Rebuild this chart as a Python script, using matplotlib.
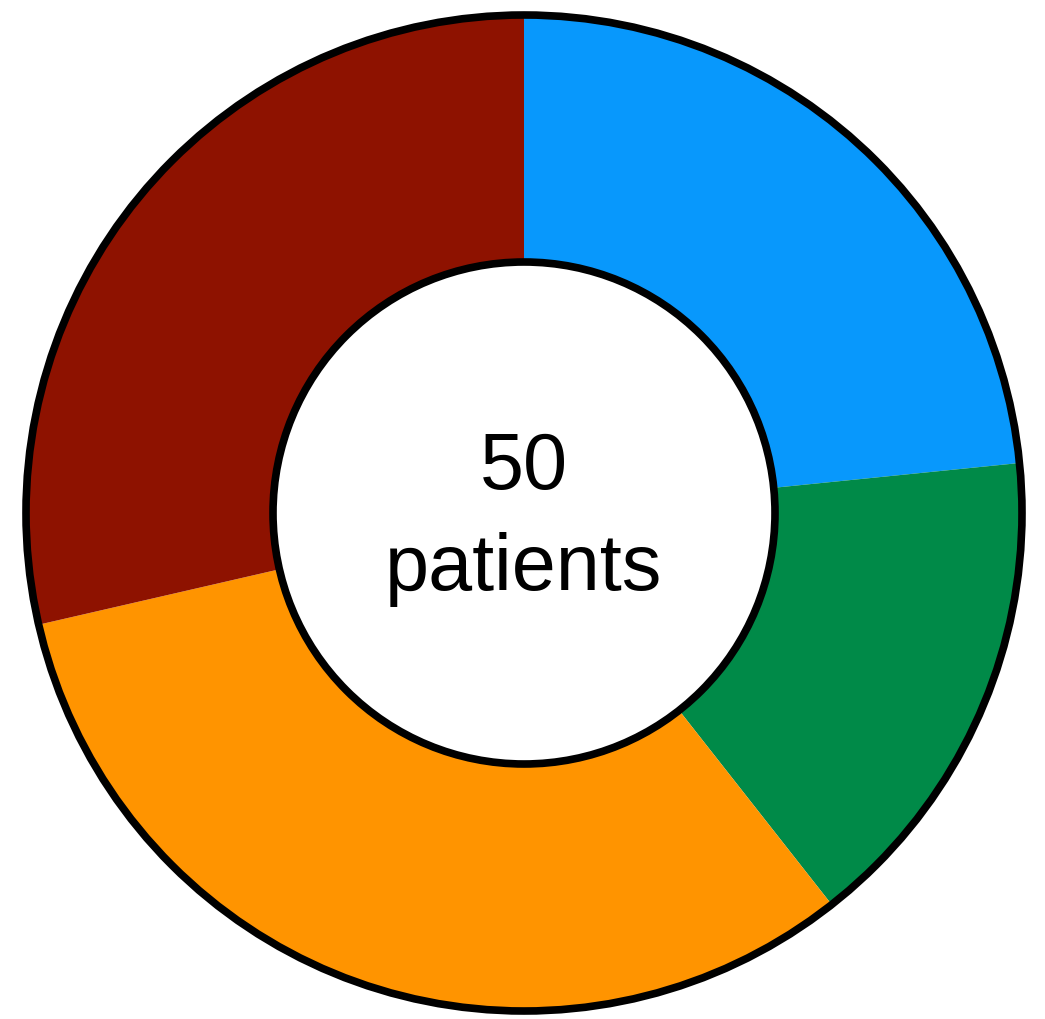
import matplotlib
matplotlib.use("Agg")
import matplotlib.pyplot as plt
from matplotlib.patches import Circle

# share of the 50 patients per group, clockwise from 12 o'clock
groups = ["blue", "green", "orange", "red"]
shares = [23.4, 16.0, 32.0, 28.6]
colors = ["#0898FC", "#008A48", "#FF9400", "#8E1200"]
center_text = ["50", "patients"]

outer_r = 1.0
inner_r = 0.502

fig = plt.figure(figsize=(10.45, 10.19), dpi=100)
ax = fig.add_axes([0, 0, 1, 1])

ax.pie(shares, colors=colors, startangle=90, counterclock=False,
       radius=outer_r,
       wedgeprops=dict(width=outer_r - inner_r, linewidth=0))

# black rings on the outer and inner edge
ax.add_patch(Circle((0, 0), outer_r - 0.004, fill=False,
                    edgecolor="black", linewidth=5.5, zorder=5))
ax.add_patch(Circle((0, 0), inner_r, fill=False,
                    edgecolor="black", linewidth=5.5, zorder=5))

ax.text(0, 0.048, center_text[0], ha="center", va="baseline",
        fontsize=57, family="Liberation Sans")
ax.text(0, -0.154, center_text[1], ha="center", va="baseline",
        fontsize=57, family="Liberation Sans")

ax.set_aspect("auto")
ax.set_xlim(-1.048, 1.042)
ax.set_ylim(-1.012, 1.026)
ax.axis("off")

fig.savefig("out.png", dpi=100)
